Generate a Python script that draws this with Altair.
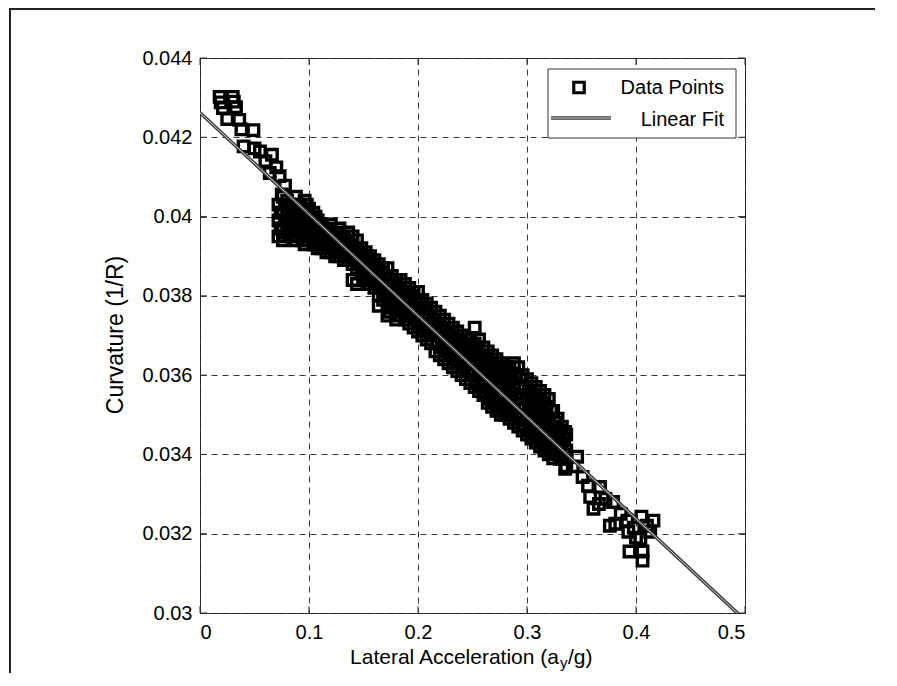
import altair as alt
import pandas as pd

FONT = "Liberation Sans"

# ---- data ----
pts_top = [
    [0.018, 0.04302], [0.030, 0.04302], [0.019, 0.04288], [0.031, 0.04290], [0.021, 0.04274], [0.033, 0.04276],
    [0.025, 0.04246], [0.036, 0.04244], [0.038, 0.04220], [0.049, 0.04218], [0.040, 0.04177], [0.050, 0.04172],
    [0.055, 0.04164], [0.066, 0.04156], [0.060, 0.04140], [0.070, 0.04124], [0.064, 0.04110], [0.073, 0.04102],
    [0.078, 0.04078], [0.075, 0.04056],
]
pts_band_a = [
    [0.072, 0.0403], [0.072, 0.0399], [0.072, 0.0395],
    [0.076, 0.0405], [0.076, 0.0401], [0.076, 0.0397], [0.076, 0.0394],
    [0.080, 0.0404], [0.080, 0.0400], [0.080, 0.0396],
    [0.084, 0.0402], [0.084, 0.0398], [0.084, 0.0395],
    [0.088, 0.0405], [0.088, 0.0401], [0.088, 0.0397], [0.088, 0.0394],
    [0.092, 0.0403], [0.092, 0.0399], [0.092, 0.0396],
    [0.096, 0.0404], [0.096, 0.0400], [0.096, 0.0396], [0.096, 0.0393],
    [0.100, 0.0402], [0.100, 0.0398], [0.100, 0.0394],
    [0.104, 0.0401], [0.104, 0.0397], [0.104, 0.0393],
    [0.108, 0.0399], [0.108, 0.0395], [0.108, 0.0392],
    [0.112, 0.0398], [0.112, 0.0395], [0.112, 0.0392],
    [0.116, 0.0397], [0.116, 0.0394], [0.116, 0.0391],
    [0.120, 0.0398], [0.120, 0.0394], [0.120, 0.0391],
    [0.124, 0.0396], [0.124, 0.0393], [0.124, 0.0390],
    [0.128, 0.0397], [0.128, 0.0393], [0.128, 0.0390],
    [0.132, 0.0395], [0.132, 0.0392], [0.132, 0.0389],
    [0.136, 0.0396], [0.136, 0.0392], [0.136, 0.0389],
    [0.140, 0.0395], [0.140, 0.0391], [0.140, 0.0388], [0.140, 0.0384],
    [0.144, 0.0394], [0.144, 0.0390], [0.144, 0.0387], [0.144, 0.0383],
    [0.148, 0.0392], [0.148, 0.0389], [0.148, 0.0386],
]
pts_band_b = [
    [0.152, 0.0391], [0.152, 0.0387], [0.152, 0.0384],
    [0.156, 0.0390], [0.156, 0.0386], [0.156, 0.0383],
    [0.160, 0.0389], [0.160, 0.0385], [0.160, 0.0382],
    [0.164, 0.0388], [0.164, 0.0384], [0.164, 0.0380], [0.164, 0.03775],
    [0.168, 0.0387], [0.168, 0.0383], [0.168, 0.0379],
    [0.172, 0.0387], [0.172, 0.0382], [0.172, 0.0378], [0.172, 0.0375],
    [0.176, 0.0385], [0.176, 0.0381], [0.176, 0.0377],
    [0.180, 0.0384], [0.180, 0.0380], [0.180, 0.0376], [0.180, 0.0374],
    [0.184, 0.0384], [0.184, 0.0379], [0.184, 0.0375],
    [0.188, 0.0383], [0.188, 0.0378], [0.188, 0.0374],
    [0.192, 0.0382], [0.192, 0.0377], [0.192, 0.0373],
    [0.196, 0.0381], [0.196, 0.0376], [0.196, 0.0372],
    [0.200, 0.0381], [0.200, 0.0376], [0.200, 0.0371],
    [0.204, 0.0379], [0.204, 0.0375], [0.204, 0.0370],
    [0.208, 0.0378], [0.208, 0.0374], [0.208, 0.0369],
    [0.212, 0.0377], [0.212, 0.0372], [0.212, 0.0368],
    [0.216, 0.0376], [0.216, 0.0371], [0.216, 0.0366],
    [0.220, 0.0375], [0.220, 0.0370], [0.220, 0.0365],
    [0.224, 0.0374], [0.224, 0.0369], [0.224, 0.0364],
    [0.228, 0.0373], [0.228, 0.0368], [0.228, 0.0363],
    [0.232, 0.0372], [0.232, 0.0367], [0.232, 0.0362],
    [0.236, 0.0371], [0.236, 0.0366], [0.236, 0.0361],
    [0.240, 0.0370], [0.240, 0.0365], [0.240, 0.0360],
    [0.244, 0.0369], [0.244, 0.0364], [0.244, 0.0359],
    [0.248, 0.0369], [0.248, 0.0364], [0.248, 0.0358],
]
pts_band_c = [
    [0.252, 0.0372], [0.252, 0.0368], [0.252, 0.0364], [0.252, 0.0360], [0.252, 0.0357],
    [0.256, 0.0369], [0.256, 0.0365], [0.256, 0.0361], [0.256, 0.0356],
    [0.260, 0.0367], [0.260, 0.0363], [0.260, 0.0359], [0.260, 0.0355],
    [0.264, 0.0366], [0.264, 0.0362], [0.264, 0.0357], [0.264, 0.0353],
    [0.268, 0.0365], [0.268, 0.0361], [0.268, 0.0356], [0.268, 0.0352],
    [0.272, 0.0364], [0.272, 0.0360], [0.272, 0.0355], [0.272, 0.0351],
    [0.276, 0.0363], [0.276, 0.0359], [0.276, 0.0354], [0.276, 0.0350],
    [0.280, 0.0362], [0.280, 0.0358], [0.280, 0.0353], [0.280, 0.0350],
    [0.284, 0.0362], [0.284, 0.0357], [0.284, 0.0352], [0.284, 0.0349],
    [0.288, 0.0363], [0.288, 0.0358], [0.288, 0.0353], [0.288, 0.0348],
    [0.292, 0.0362], [0.292, 0.0357], [0.292, 0.0352], [0.292, 0.0347],
    [0.296, 0.0360], [0.296, 0.0355], [0.296, 0.0350], [0.296, 0.0346],
    [0.300, 0.0359], [0.300, 0.0354], [0.300, 0.0349], [0.300, 0.0345],
    [0.304, 0.0358], [0.304, 0.0353], [0.304, 0.0348], [0.304, 0.0344],
    [0.308, 0.0357], [0.308, 0.0352], [0.308, 0.0347], [0.308, 0.0343],
    [0.312, 0.0356], [0.312, 0.0351], [0.312, 0.0346], [0.312, 0.0342],
    [0.316, 0.0355], [0.316, 0.0350], [0.316, 0.0345], [0.316, 0.0341],
    [0.320, 0.0354], [0.320, 0.0349], [0.320, 0.0344], [0.320, 0.0340],
    [0.324, 0.0351], [0.324, 0.0347], [0.324, 0.0343], [0.324, 0.0339],
    [0.328, 0.0349], [0.328, 0.0345], [0.328, 0.0341],
    [0.332, 0.0347], [0.332, 0.0343], [0.332, 0.0339],
    [0.336, 0.0345], [0.336, 0.0341], [0.336, 0.0337],
]
pts_fill = [
    [0.074, 0.0401], [0.074, 0.0397],
    [0.078, 0.0403], [0.078, 0.0399], [0.078, 0.0395],
    [0.082, 0.0403], [0.082, 0.0399], [0.082, 0.0396],
    [0.086, 0.0400], [0.086, 0.0396],
    [0.090, 0.0403], [0.090, 0.0399], [0.090, 0.0395],
    [0.094, 0.0401], [0.094, 0.0398], [0.094, 0.0394],
    [0.098, 0.0403], [0.098, 0.0399], [0.098, 0.0395],
    [0.102, 0.0400], [0.102, 0.0396],
    [0.106, 0.0400], [0.106, 0.0396], [0.106, 0.0393],
    [0.110, 0.0397], [0.110, 0.0393],
    [0.114, 0.0396], [0.114, 0.0393],
    [0.118, 0.0396], [0.118, 0.0392],
    [0.122, 0.0395], [0.122, 0.0392],
    [0.126, 0.0394], [0.126, 0.0391],
    [0.130, 0.0394], [0.130, 0.0391],
    [0.134, 0.0393], [0.134, 0.0390],
    [0.138, 0.0393], [0.138, 0.0390],
    [0.142, 0.0392], [0.142, 0.0389],
    [0.146, 0.0391], [0.146, 0.0388],
    [0.150, 0.0390], [0.150, 0.0387],
    [0.154, 0.0389], [0.154, 0.0385],
    [0.158, 0.0388], [0.158, 0.0384],
    [0.162, 0.0387], [0.162, 0.0383],
    [0.166, 0.0386], [0.166, 0.0382],
    [0.170, 0.0385], [0.170, 0.0381],
    [0.174, 0.0384], [0.174, 0.0380], [0.174, 0.0376],
    [0.178, 0.0383], [0.178, 0.0379],
    [0.182, 0.0382], [0.182, 0.0378],
    [0.186, 0.0381], [0.186, 0.0377],
    [0.190, 0.0380], [0.190, 0.0376],
    [0.194, 0.0380], [0.194, 0.0375],
    [0.198, 0.0379], [0.198, 0.0374],
    [0.202, 0.0378], [0.202, 0.0373],
    [0.206, 0.0377], [0.206, 0.0372],
    [0.210, 0.0375], [0.210, 0.0371],
    [0.214, 0.0374], [0.214, 0.0370],
    [0.218, 0.0373], [0.218, 0.0368],
    [0.222, 0.0372], [0.222, 0.0367],
    [0.226, 0.0371], [0.226, 0.0366],
    [0.230, 0.0370], [0.230, 0.0365],
    [0.234, 0.0369], [0.234, 0.0364],
    [0.238, 0.0368], [0.238, 0.0363],
    [0.242, 0.0367], [0.242, 0.0362],
    [0.246, 0.0366], [0.246, 0.0361],
    [0.250, 0.0366], [0.250, 0.0361],
    [0.254, 0.0367], [0.254, 0.0363], [0.254, 0.0358],
    [0.258, 0.0365], [0.258, 0.0361], [0.258, 0.0357],
    [0.262, 0.0364], [0.262, 0.0360], [0.262, 0.0355],
    [0.266, 0.0363], [0.266, 0.0359], [0.266, 0.0354],
    [0.270, 0.0362], [0.270, 0.0358], [0.270, 0.0353],
    [0.274, 0.0361], [0.274, 0.0357], [0.274, 0.0352],
    [0.278, 0.0360], [0.278, 0.0356], [0.278, 0.0352],
    [0.282, 0.0360], [0.282, 0.0355], [0.282, 0.0351],
    [0.286, 0.0360], [0.286, 0.0355], [0.286, 0.0350],
    [0.290, 0.0360], [0.290, 0.0355], [0.290, 0.0350],
    [0.294, 0.0359], [0.294, 0.0354], [0.294, 0.0349],
    [0.298, 0.0357], [0.298, 0.0352], [0.298, 0.0347],
    [0.302, 0.0356], [0.302, 0.0351], [0.302, 0.0346],
    [0.306, 0.0355], [0.306, 0.0350], [0.306, 0.0345],
    [0.310, 0.0354], [0.310, 0.0349], [0.310, 0.0344],
    [0.314, 0.0353], [0.314, 0.0348], [0.314, 0.0343],
    [0.318, 0.0352], [0.318, 0.0347], [0.318, 0.0342],
    [0.322, 0.0351], [0.322, 0.0346], [0.322, 0.0341],
    [0.326, 0.0348], [0.326, 0.0344], [0.326, 0.0340],
    [0.330, 0.0346], [0.330, 0.0342],
    [0.334, 0.0344], [0.334, 0.0340],
]
pts_tail = [
    [0.335, 0.03457], [0.330, 0.03389], [0.346, 0.03394], [0.335, 0.03364], [0.351, 0.03343],
    [0.356, 0.03321], [0.367, 0.03318], [0.358, 0.03293], [0.361, 0.03263], [0.372, 0.03288],
    [0.379, 0.03280], [0.381, 0.03225], [0.392, 0.03233], [0.405, 0.03243], [0.416, 0.03233],
    [0.413, 0.03205], [0.393, 0.03205], [0.394, 0.03155], [0.406, 0.03155], [0.406, 0.03132],
    [0.404, 0.03187], [0.376, 0.03220], [0.398, 0.03215], [0.386, 0.03250], [0.410, 0.03220],
    [0.400, 0.03190], [0.366, 0.03275], [0.342, 0.03370],
]

fit_x = [0.0, 0.5]
fit_y = [0.04262, 0.02982]

x_ticks = [0, 0.1, 0.2, 0.3, 0.4, 0.5]
y_ticks = [0.030, 0.032, 0.034, 0.036, 0.038, 0.040, 0.042, 0.044]

legend_labels = ["Data Points", "Linear Fit"]
x_title_parts = ["Lateral Acceleration (a", "y", "/g)"]
y_title = "Curvature (1/R)"

# ---- tables ----
all_pts = pts_top + pts_band_a + pts_band_b + pts_band_c + pts_fill + pts_tail
df_pts = pd.DataFrame(all_pts, columns=["x", "y"])
df_fit = pd.DataFrame({"x": fit_x, "y": fit_y})
df_xt = pd.DataFrame({"t": x_ticks})
df_yt = pd.DataFrame({"t": y_ticks})
one = alt.Data(values=[{}])

W, H = 545, 555

xs = alt.Scale(domain=[0, 0.5], nice=False, zero=False)
ys = alt.Scale(domain=[0.03, 0.044], nice=False, zero=False)

axis_common = dict(
    title=None, grid=True, gridDash=[6, 5], gridColor="#222", gridOpacity=0.9, gridWidth=1,
    domain=False, ticks=False, labelFont=FONT, labelFontSize=20, labelColor="#000",
    format="~g",
)
x_axis = alt.Axis(values=x_ticks, labelPadding=9, **axis_common)
y_axis = alt.Axis(values=y_ticks, labelPadding=8, **axis_common)

points = alt.Chart(df_pts).mark_point(
    shape="square", filled=False, size=110, strokeWidth=3.4, color="#000", opacity=1
).encode(
    x=alt.X("x:Q", scale=xs, axis=x_axis),
    y=alt.Y("y:Q", scale=ys, axis=y_axis),
)

fit_dark = alt.Chart(df_fit).mark_line(color="#3a3a3a", strokeWidth=3.5, clip=True).encode(
    x=alt.X("x:Q", scale=xs), y=alt.Y("y:Q", scale=ys)
)
fit_light = alt.Chart(df_fit).mark_line(color="#d8d8d8", strokeWidth=1, clip=True).encode(
    x=alt.X("x:Q", scale=xs), y=alt.Y("y:Q", scale=ys)
)

tick_style = dict(color="#333", strokeWidth=1)
tb = alt.Chart(df_xt).mark_rule(**tick_style).encode(
    x=alt.X("t:Q", scale=xs), y=alt.value(H), y2=alt.value(H - 7))
tt = alt.Chart(df_xt).mark_rule(**tick_style).encode(
    x=alt.X("t:Q", scale=xs), y=alt.value(0), y2=alt.value(7))
tl = alt.Chart(df_yt).mark_rule(**tick_style).encode(
    y=alt.Y("t:Q", scale=ys), x=alt.value(0), x2=alt.value(7))
tr = alt.Chart(df_yt).mark_rule(**tick_style).encode(
    y=alt.Y("t:Q", scale=ys), x=alt.value(W), x2=alt.value(W - 7))

# legend box
leg_box = alt.Chart(one).mark_rect(fill="white", stroke="#333", strokeWidth=1).encode(
    x=alt.value(348), x2=alt.value(536), y=alt.value(11), y2=alt.value(80))
leg_sq = alt.Chart(one).mark_point(shape="square", filled=False, size=110, strokeWidth=3.2,
                                   color="#000", opacity=1).encode(
    x=alt.value(379), y=alt.value(29.5))
leg_l1 = alt.Chart(one).mark_rule(color="#3a3a3a", strokeWidth=3.5).encode(
    x=alt.value(351), x2=alt.value(411), y=alt.value(60))
leg_l2 = alt.Chart(one).mark_rule(color="#d8d8d8", strokeWidth=1).encode(
    x=alt.value(351), x2=alt.value(411), y=alt.value(60))
txt = dict(font=FONT, fontSize=20, color="#000", align="right", baseline="middle")
leg_t1 = alt.Chart(one).mark_text(text=legend_labels[0], **txt).encode(
    x=alt.value(524), y=alt.value(30))
leg_t2 = alt.Chart(one).mark_text(text=legend_labels[1], **txt).encode(
    x=alt.value(524), y=alt.value(61.5))

# axis titles
xt1 = alt.Chart(one).mark_text(text=x_title_parts[0], font=FONT, fontSize=21, color="#000",
                               align="right", baseline="alphabetic").encode(
    x=alt.value(359), y=alt.value(606))
xt2 = alt.Chart(one).mark_text(text=x_title_parts[1], font=FONT, fontSize=15, color="#000",
                               align="left", baseline="alphabetic").encode(
    x=alt.value(360), y=alt.value(610))
xt3 = alt.Chart(one).mark_text(text=x_title_parts[2], font=FONT, fontSize=21, color="#000",
                               align="left", baseline="alphabetic").encode(
    x=alt.value(368), y=alt.value(606))
yt = alt.Chart(one).mark_text(text=y_title, font=FONT, fontSize=23, color="#000", angle=270,
                              align="center", baseline="middle").encode(
    x=alt.value(-84), y=alt.value(277))

# outer frame (left and top edges)
fr_l = alt.Chart(one).mark_rule(color="#222", strokeWidth=2).encode(
    x=alt.value(-190), y=alt.value(-50), y2=alt.value(640))
fr_t = alt.Chart(one).mark_rule(color="#222", strokeWidth=2).encode(
    x=alt.value(-191), x2=alt.value(700), y=alt.value(-49))

chart = alt.layer(
    points, fit_dark, fit_light, tb, tt, tl, tr,
    leg_box, leg_sq, leg_l1, leg_l2, leg_t1, leg_t2,
    xt1, xt2, xt3, yt, fr_l, fr_t,
).properties(
    width=W, height=H,
    autosize=alt.AutoSizeParams(type="none"),
    padding={"left": 192, "top": 50, "right": 130, "bottom": 60},
    background="white",
).configure_view(stroke="#333", strokeWidth=1)

chart.save("out.html", embed_options={"renderer": "svg", "actions": False})
